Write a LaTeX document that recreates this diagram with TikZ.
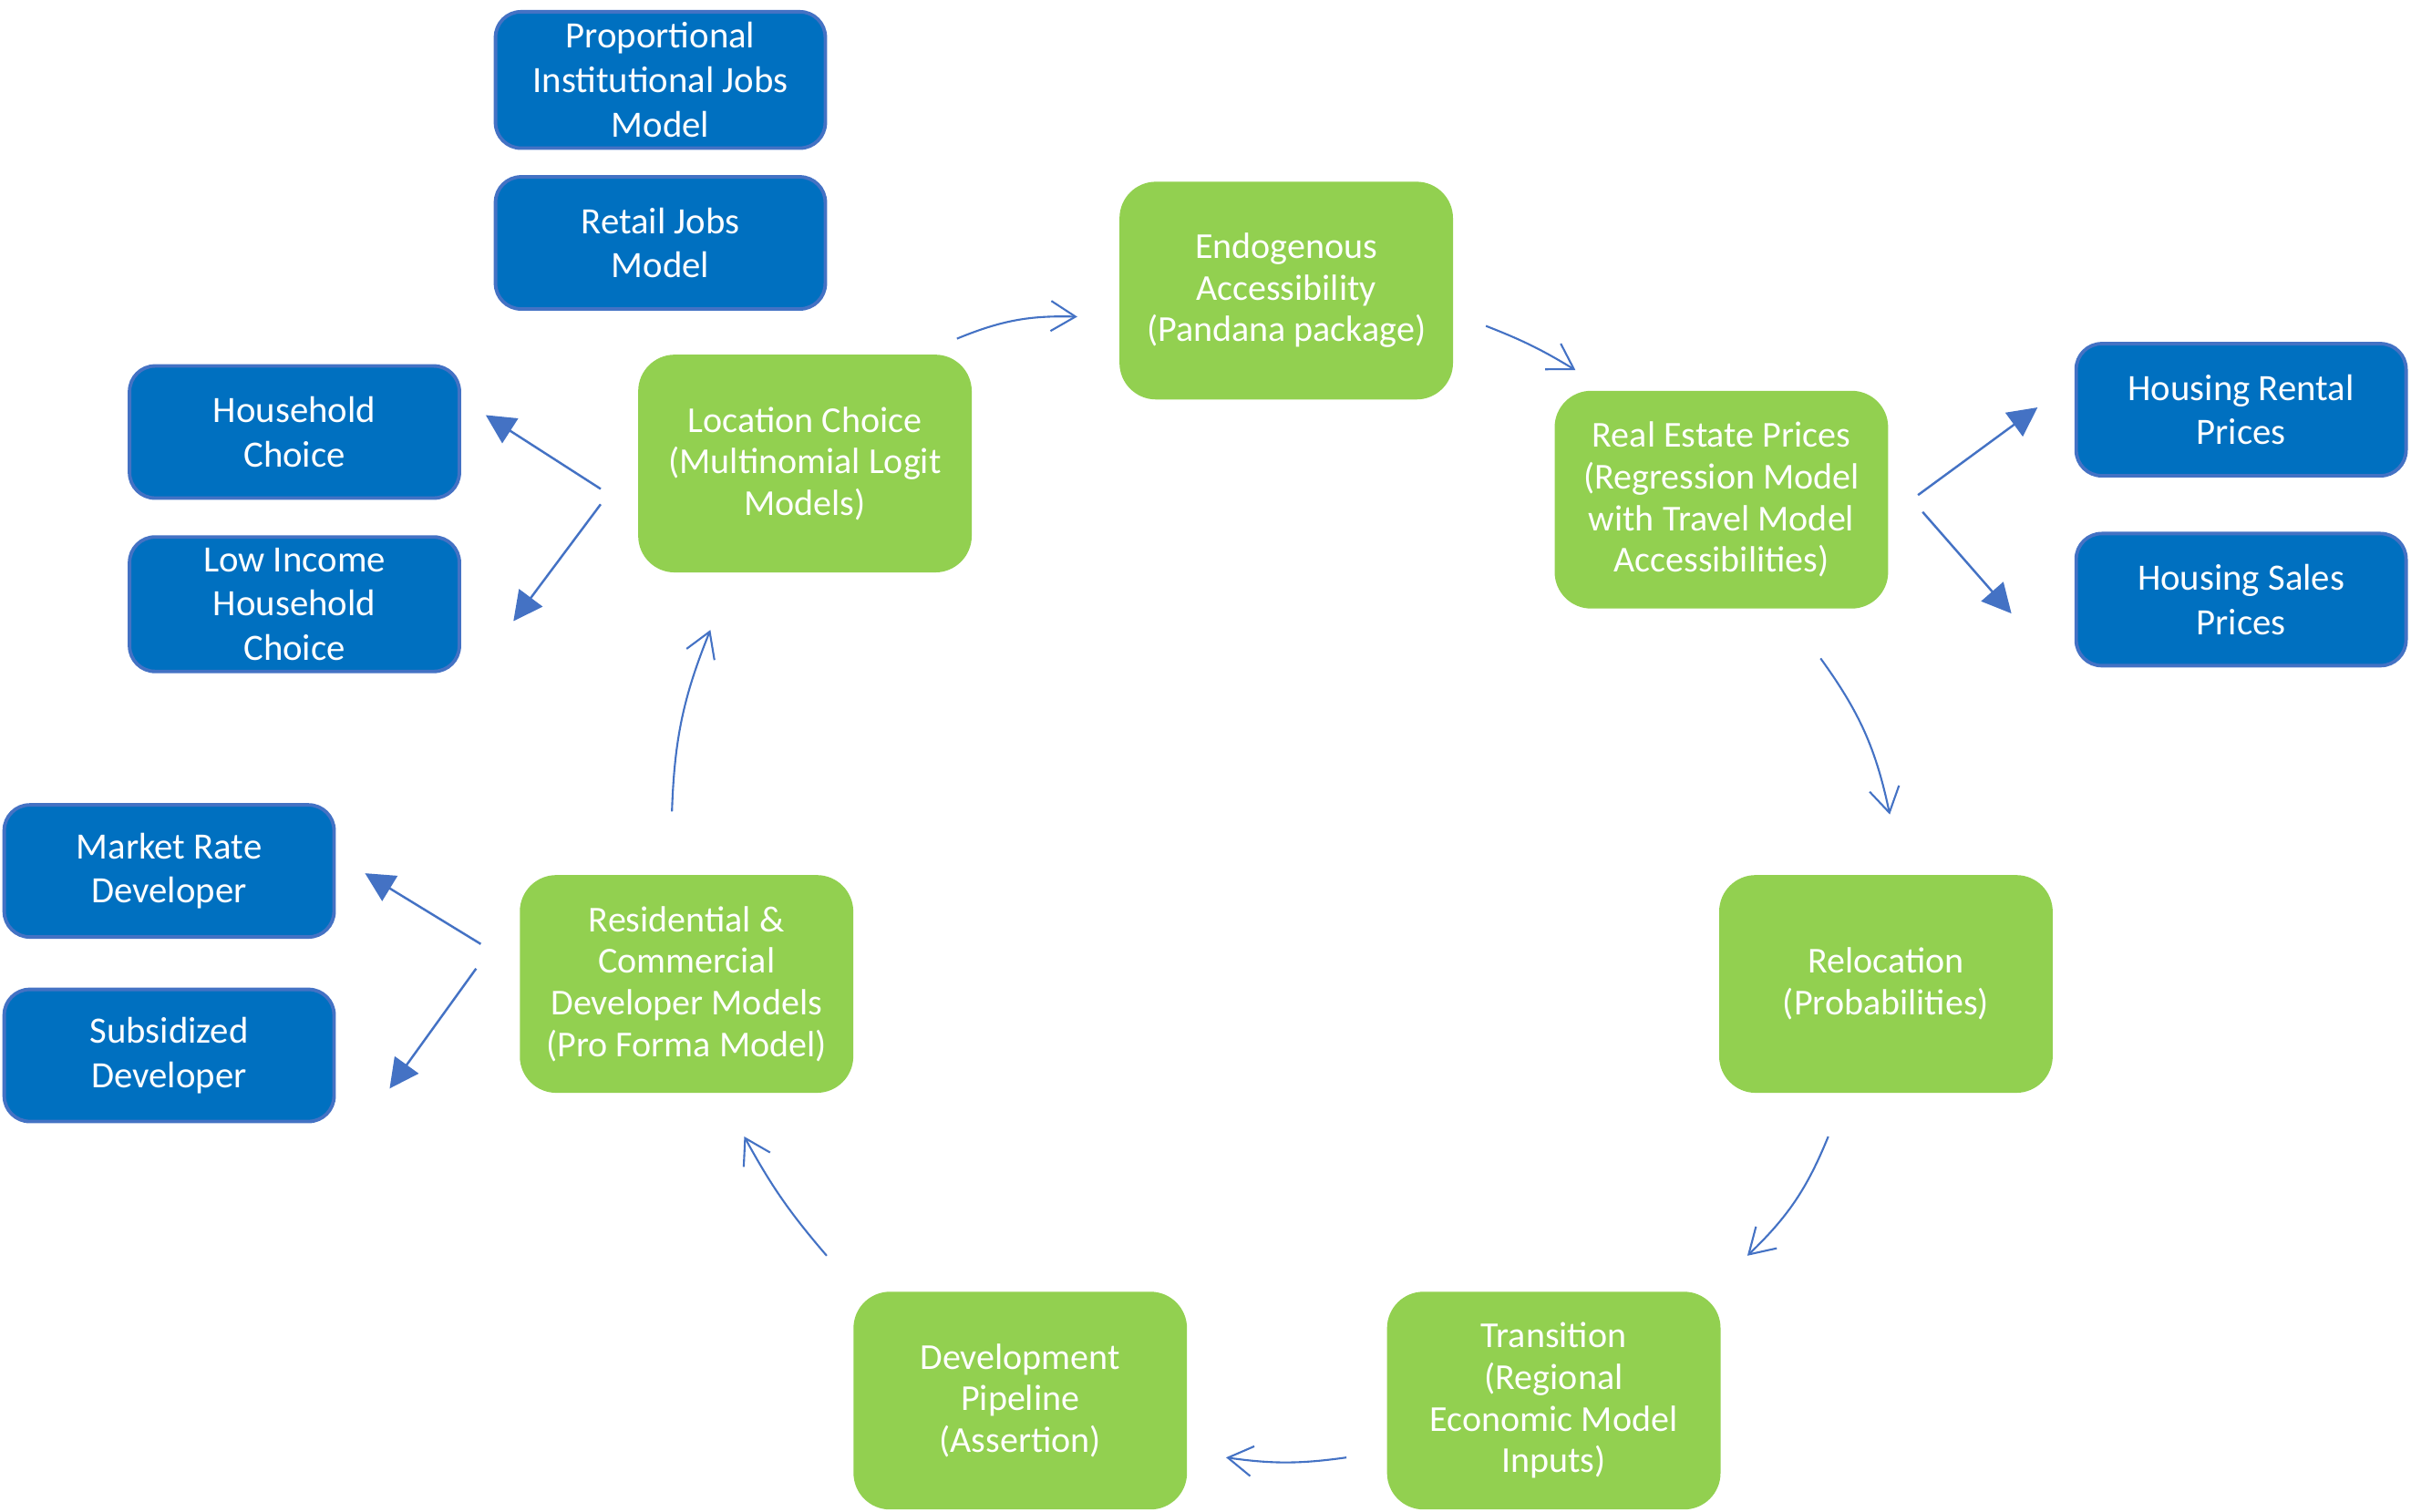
\documentclass[tikz,border=0pt]{standalone}
\usepackage{fontspec}
\setmainfont{Carlito}
\usepackage{xcolor}
\usepackage{tikz}
\usetikzlibrary{arrows.meta,calc,positioning}
\definecolor{modelblue}{RGB}{0, 112, 192}
\definecolor{edgeblue}{RGB}{68, 114, 196}
\definecolor{stepgreen}{RGB}{146, 208, 80}

\begin{document}
\begin{tikzpicture}[x=0.016869cm, y=-0.016869cm]
    % Styles
    \tikzstyle{outbox} = [draw=edgeblue, fill=modelblue, line width=1.1pt, rounded corners=2.8mm, minimum width=3.62cm, minimum height=1.45cm, text=white, align=center, font=\fontsize{11.6}{13.9}\selectfont]
    \tikzstyle{stage} = [fill=stepgreen, rounded corners=4mm, minimum width=3.66cm, minimum height=2.39cm, text=white, align=center, font=\fontsize{11.4}{13}\selectfont]
    \tikzstyle{looparrow} = [edgeblue, line width=0.6pt, -{Straight Barb[length=2.7mm,width=3.3mm]}]
    \tikzstyle{sidearrow} = [edgeblue, line width=0.7pt, -{Triangle[length=3.2mm,width=3.2mm]}]

    \useasboundingbox (0,0) rectangle (1568,983);

    % Model cycle
    \node[stage] (locchoice) at (523.5,301.5) {Location Choice\\(Multinomial Logit\\Models)};
    \node[stage] (access) at (836.5,189) {Endogenous\\Accessibility\\(Pandana package)};
    \node[stage] (prices) at (1119.5,325) {Real Estate Prices\\(Regression Model\\with Travel Model\\Accessibilities)};
    \node[stage] (reloc) at (1226.5,640) {Relocation\\(Probabilities)};
    \node[stage] (transition) at (1010.5,911) {Transition\\(Regional\\Economic Model\\Inputs)};
    \node[stage] (pipeline) at (663.5,911) {Development\\Pipeline\\(Assertion)};
    \node[stage] (developer) at (446.5,640) {Residential \&\\Commercial\\Developer Models\\(Pro Forma Model)};

    % Sub-models
    \node[outbox] (instjobs) at (429.5,52) {Proportional\\Institutional Jobs\\Model};
    \node[outbox] (retailjobs) at (429.5,158) {Retail Jobs\\Model};
    \node[outbox] (hhchoice) at (191.5,281) {Household\\Choice};
    \node[outbox] (lowinc) at (191.5,393) {Low Income\\Household\\Choice};
    \node[outbox] (marketdev) at (110,566.5) {Market Rate\\Developer};
    \node[outbox] (subsdev) at (110,686.5) {Subsidized\\Developer};
    \node[outbox] (rental) at (1457.5,266.5) {Housing Rental\\Prices};
    \node[outbox] (sales) at (1457.5,390) {Housing Sales\\Prices};

    % Cycle arrows
    \draw[looparrow] ($(locchoice.north east)+(-10,-10)$) to[bend left=12] ($(access.west)+(-27,17)$);
    \draw[looparrow] ($(access.east)+(21,23)$) to[bend left=5] ($(prices.north west)+(14,-13)$);
    \draw[looparrow] ($(prices.south)+(64.5,32)$) to[bend left=12] ($(reloc.north)+(2.5,-39)$);
    \draw[looparrow] ($(reloc.south)+(-37.5,28)$) to[bend left=12] ($(transition.north east)+(17,-23)$);
    \draw[looparrow] ($(transition.west)+(-26,37)$) to[bend left=8] ($(pipeline.east)+(25,37)$);
    \draw[looparrow] ($(pipeline.north west)+(-17,-23)$) to[bend left=6] ($(developer.south)+(37.5,28)$);
    \draw[looparrow] ($(developer.north)+(-9.5,-41)$) to[bend left=10] ($(locchoice.south)+(-61.5,37)$);

    % Branch arrows
    \draw[sidearrow] ($(locchoice.west)+(-24,16.5)$) -- ($(hhchoice.east)+(16,-11)$);
    \draw[sidearrow] ($(locchoice.west)+(-24,26.5)$) -- ($(lowinc.east)+(34,11)$);
    \draw[sidearrow] ($(developer.west)+(-25,-26)$) -- ($(marketdev.east)+(19,1.5)$);
    \draw[sidearrow] ($(developer.west)+(-28,-10)$) -- ($(subsdev.east)+(35,21.5)$);
    \draw[sidearrow] ($(prices.east)+(19,-3)$) -- ($(rental.west)+(-24,-1.5)$);
    \draw[sidearrow] ($(prices.east)+(22,8)$) -- ($(sales.west)+(-41,9)$);
\end{tikzpicture}
\end{document}
